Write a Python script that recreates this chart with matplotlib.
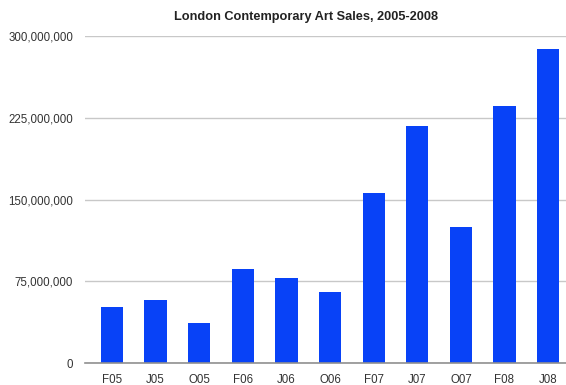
import matplotlib.pyplot as plt
from matplotlib.ticker import FuncFormatter

# quarterly sales, pounds
periods = ["F05", "J05", "O05", "F06", "J06", "O06", "F07", "J07", "O07", "F08", "J08"]
sales = [51e6, 58e6, 37e6, 86e6, 78e6, 65e6, 156e6, 218e6, 125e6, 236e6, 288e6]
y_ticks = [0, 75e6, 150e6, 225e6, 300e6]

plt.rcParams['font.family'] = ['Liberation Sans', 'DejaVu Sans']

fig = plt.figure(figsize=(5.66, 3.85), dpi=100)
ax = fig.add_axes([0.150, 0.057, 0.85, 0.849])

x = range(len(periods))
ax.bar(x, sales, width=0.51, color='#0842f7', zorder=3)

ax.set_xlim(-0.62, 10.41)
ax.set_ylim(0, 300e6)
ax.set_xticks(list(x))
ax.set_xticklabels(periods)
ax.set_yticks(y_ticks)
ax.yaxis.set_major_formatter(FuncFormatter(lambda v, p: "{:,.0f}".format(v)))

ax.grid(axis='y', color='#c8c8c8', linewidth=1.0, zorder=0)
for side in ['top', 'right', 'left']:
    ax.spines[side].set_visible(False)
ax.spines['bottom'].set_color('#909090')
ax.spines['bottom'].set_linewidth(1.2)
ax.spines['bottom'].set_zorder(4)
ax.tick_params(axis='both', length=0, labelsize=8.3, colors='#333333')
ax.tick_params(axis='y', pad=8.5)
ax.tick_params(axis='x', pad=8)

fig.text(0.54, 0.955, "London Contemporary Art Sales, 2005-2008",
         ha='center', va='center', fontsize=9.2, fontweight='bold', color='#222222')

fig.savefig("out.png", dpi=100)
